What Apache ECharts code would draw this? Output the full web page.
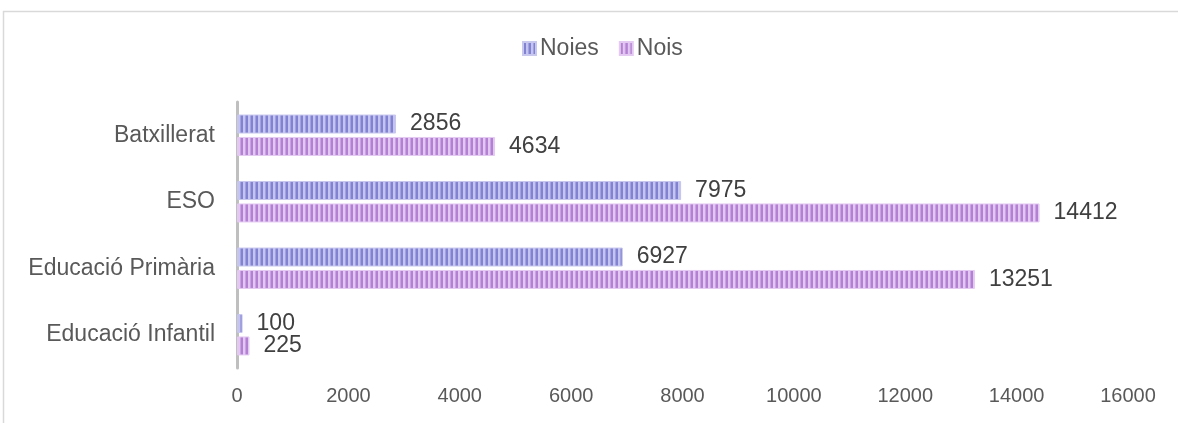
<!DOCTYPE html>
<html><head><meta charset="utf-8">
<script src="https://cdn.jsdelivr.net/npm/echarts@6/dist/echarts.min.js"></script>
<style>html,body{margin:0;padding:0;background:#fff}#c{width:1178px;height:423px}</style>
</head><body><div id="c"></div>
<script>
const categories = ['Batxillerat', 'ESO', 'Educació Primària', 'Educació Infantil'];
const noies = [2856, 7975, 6927, 100];
const nois = [4634, 14412, 13251, 225];
const xTicks = [0, 2000, 4000, 6000, 8000, 10000, 12000, 14000, 16000];

function stripes(dark, mid, light) {
  const c = document.createElement('canvas');
  c.width = 5; c.height = 4;
  const g = c.getContext('2d');
  g.fillStyle = light; g.fillRect(0, 0, 5, 4);
  g.fillStyle = mid; g.fillRect(0, 0, 1, 4);
  g.fillStyle = dark; g.fillRect(1, 0, 2, 4);
  return { image: c, repeat: 'repeat' };
}
const pNoies = stripes('#8282d2', '#a2a2e0', '#c4c4ee');
const pNois = stripes('#b380d3', '#c8a2e2', '#e2c7f1');

const chart = echarts.init(document.getElementById('c'));
const font = 'Liberation Sans, Arial, sans-serif';
const lbl = { show: true, position: 'right', distance: 14, fontSize: 23, color: '#404040', fontFamily: font };
chart.setOption({
  animation: false,
  textStyle: { fontFamily: font },
  graphic: [{ type: 'rect', shape: { x: 3.5, y: 11.5, width: 1200, height: 500 }, style: { fill: 'none', stroke: '#d9d9d9', lineWidth: 1.5 }, silent: true }],
  legend: {
    data: ['Noies', 'Nois'], top: 37, left: 522, padding: 0, itemWidth: 13, itemHeight: 13, itemGap: 20,
    icon: 'rect',
    textStyle: { fontSize: 23, color: '#595959', fontFamily: font, padding: [0, 0, 0, -1] }
  },
  grid: { left: 237, right: 50, top: 102, bottom: 55, containLabel: false },
  xAxis: {
    type: 'value', min: 0, max: 16000, interval: 2000,
    axisLine: { show: false }, axisTick: { show: false }, splitLine: { show: false },
    axisLabel: { fontSize: 20, color: '#595959', margin: 18, fontFamily: font,
      formatter: v => xTicks.includes(v) ? String(v) : '' }
  },
  yAxis: {
    type: 'category', data: categories, inverse: true,
    axisLine: { show: true, lineStyle: { color: '#bfbfbf', width: 3 } },
    axisTick: { show: false },
    axisLabel: { fontSize: 23, color: '#595959', margin: 22, fontFamily: font }
  },
  series: [
    { name: 'Noies', type: 'bar', data: noies, barWidth: 19, barGap: '18%',
      itemStyle: { color: pNoies, borderColor: '#c8c8ee', borderWidth: 1 },
      label: lbl },
    { name: 'Nois', type: 'bar', data: nois, barWidth: 19,
      itemStyle: { color: pNois, borderColor: '#e4caf2', borderWidth: 1 },
      label: lbl }
  ]
});
</script></body></html>
